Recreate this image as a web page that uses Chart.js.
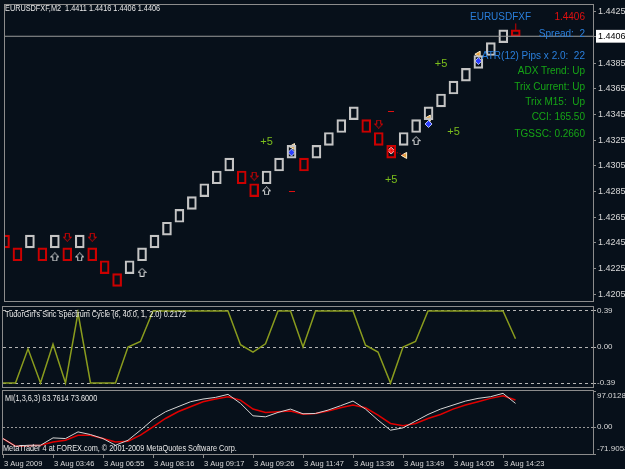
<!DOCTYPE html>
<html>
<head>
<meta charset="utf-8">
<script src="https://cdn.jsdelivr.net/npm/chart.js@4.4.0/dist/chart.umd.min.js"></script>
<style>
  body { margin: 0; background: #07101a; }
  #wrap { position: relative; width: 625px; height: 469px; overflow: hidden; background: #07101a; font-family: "Liberation Sans", Arial, sans-serif; }
  canvas { position: absolute; left: 0; }
  .t { position: absolute; white-space: pre; line-height: 12px; }
  .small { font-size: 8.5px; color: #e8e8e8; transform-origin: left center; transform: scaleX(0.86); }
  .info { font-size: 10px; right: 40px; text-align: right; }
  .blue { color: #2a7fdc; }
  .green { color: #16a516; }
</style>
</head>
<body>
<div id="wrap">
  <canvas id="main" width="625" height="306" style="top:0"></canvas>
  <canvas id="cycle" width="625" height="82" style="top:306px"></canvas>
  <canvas id="mi" width="625" height="85" style="top:384px"></canvas>

  <div class="t small" style="left:5px;top:2px">EURUSDFXF,M2  1.4411 1.4416 1.4406 1.4406</div>
  <div class="t blue" style="left:470px;top:11px;font-size:10px">EURUSDFXF</div>
  <div class="t info" style="top:11px;color:#e01010">1.4406</div>
  <div class="t info blue" style="top:28px">Spread:  2</div>
  <div class="t info blue" style="top:50px">ATR(12) Pips x 2.0:  22</div>
  <div class="t info green" style="top:65px">ADX Trend: Up</div>
  <div class="t info green" style="top:81px">Trix Current: Up</div>
  <div class="t info green" style="top:96px">Trix M15:  Up</div>
  <div class="t info green" style="top:111px">CCI: 165.50</div>
  <div class="t info green" style="top:128px">TGSSC: 0.2660</div>

  <div class="t small" style="left:5px;top:308px">TudorGirl's Sinc Spectrum Cycle (6, 40.0, 1, 2.0) 0.2172</div>
  <div class="t small" style="left:5px;top:392px">MI(1,3,6,3) 63.7614 73.6000</div>
  <div class="t small" style="left:3px;top:442px">MetaTrader 4 at FOREX.com, © 2001-2009 MetaQuotes Software Corp.</div>
</div>

<script>
// renko columns: box colour and box top price (box size 10 pips)
const boxSize = 0.001;
const boxColors = ["R","R","W","R","W","R","W","R","R","R","W","W","W","W","W","W","W","W","W","R",
                   "R","W","W","W","R","W","W","W","W","R","R","R","W","W","W","W","W","W","W","W","W"];
const boxTops = [1.4251,1.4241,1.4251,1.4241,1.4251,1.4241,1.4251,1.4241,1.4231,1.4221,
                 1.4231,1.4241,1.4251,1.4261,1.4271,1.4281,1.4291,1.4301,1.4311,1.4301,
                 1.4291,1.4301,1.4311,1.4321,1.4311,1.4321,1.4331,1.4341,1.4351,1.4341,
                 1.4331,1.4321,1.4331,1.4341,1.4351,1.4361,1.4371,1.4381,1.4391,1.4401,1.4411];
// current (unfinished) bar: open, high, low, close
const lastBar = [1.4411, 1.4416, 1.4406, 1.4406];
const bid = 1.4406;

// signal markers (column, price)
const upArrowCols = [4, 6, 11, 21, 33];
const upArrowPrices = [1.4234, 1.4234, 1.4222, 1.42855, 1.43246];
const downArrowCols = [5, 7, 20, 30];
const downArrowPrices = [1.42494, 1.42494, 1.4297, 1.43376];
const blueDotCols = [23, 34, 38];
const blueDotPrices = [1.43154, 1.43376, 1.43867];
const redDotCols = [31];
const redDotPrices = [1.43169];
const flagCols = [23.1, 34, 38, 32.1];
const flagPrices = [1.4320, 1.43422, 1.4392, 1.43131];
const plusCols = [21, 31, 35, 36];
const plusPrices = [1.43238, 1.42939, 1.43844, 1.43315];
const minusCols = [23, 31];
const minusPrices = [1.42855, 1.43476];

const priceTicks = [1.4205,1.4225,1.4245,1.4265,1.4285,1.4305,1.4325,1.4345,1.4365,1.4385,1.4406,1.4425];

// TudorGirl's sinc spectrum cycle
const cycle = [-0.39,-0.39,-0.02,-0.39,0.03,-0.39,0.37,-0.39,-0.39,-0.39,
               0.0,0.06,0.39,0.39,0.39,0.39,0.39,0.39,0.39,0.025,
               -0.055,0.035,0.39,0.39,0.0,0.39,0.39,0.39,0.39,0.02,
               -0.055,-0.39,0.0,0.06,0.39,0.39,0.39,0.39,0.39,0.39,0.39,0.09];
const cycleTicks = [0.39, 0, -0.39];

// MI main and signal
const miMain = [-30.5,-51.2,-48.5,-48.5,-28.7,-30.5,-12.6,-19.8,-30.5,-48.5,
                -35,-8.1,20.7,41.3,54.8,68.2,75.4,79.9,88,63.8,
                30.5,27.8,39.5,48.5,35.9,36.8,45.8,57.5,70,48.5,
                18.9,-8.1,-1.8,16.2,34.1,48.5,59.3,70,77.2,81.7,90.7,63.8];
const miSignal = [-30.5,-51,-50,-48.5,-39.5,-35,-21.5,-21.5,-30.5,-39.5,
                  -37.7,-21.5,0.9,23.3,41.3,54.8,68.2,75.4,81.7,72.7,
                  48.5,39.5,41.3,43.1,35,36.8,43.1,52,59.3,52,
                  32.3,9.9,3.6,9.9,23.3,34.1,48.5,59.3,68.2,77.2,84.4,72.7];
const miTicks = [97.0128, 0, -71.9058];

const timeCols = [0,4,8,12,16,20,24,28,32,36,40];
const timeLabels = ["3 Aug 2009","3 Aug 03:46","3 Aug 06:55","3 Aug 08:16","3 Aug 09:17","3 Aug 09:26",
                    "3 Aug 11:47","3 Aug 13:36","3 Aug 13:49","3 Aug 14:05","3 Aug 14:23"];

const X_MIN = 0, X_MAX = 47.2;
const WHITE = "#c4c4c4", RED = "#cc0000", FRAME = "#8c8c8c", LABEL = "#d8d8d8";

Chart.defaults.font.family = "Liberation Sans";
Chart.defaults.animation = false;
Chart.defaults.responsive = false;
Chart.defaults.plugins.legend.display = false;
Chart.defaults.plugins.tooltip.enabled = false;

const pts = (cols, vals) => cols.map((c, i) => ({ x: c, y: vals[i] }));

function arrowImg(color, up) {
  const c = document.createElement("canvas");
  c.width = 9; c.height = 9;
  const g = c.getContext("2d");
  g.strokeStyle = color; g.lineWidth = 1;
  const shape = [[4.5,0.5],[8.5,4.5],[6.5,4.5],[6.5,8.5],[2.5,8.5],[2.5,4.5],[0.5,4.5]];
  g.beginPath();
  shape.forEach(([px, py], i) => {
    const yy = up ? py : 9 - py;
    i ? g.lineTo(px, yy) : g.moveTo(px, yy);
  });
  g.closePath(); g.stroke();
  return c;
}

const frame = {
  id: "frame",
  afterDraw(chart) {
    const { ctx, chartArea: a } = chart;
    ctx.save();
    ctx.strokeStyle = FRAME; ctx.lineWidth = 1;
    ctx.strokeRect(a.left - 0.5, a.top - 0.5, a.right - a.left + 1, a.bottom - a.top + 1);
    ctx.restore();
  }
};

// "+5" / "-" notes sitting on the price chart
const notes = {
  id: "notes",
  afterDatasetsDraw(chart) {
    const { ctx, scales: { x, y } } = chart;
    ctx.save();
    ctx.font = "11px Liberation Sans";
    ctx.textAlign = "center"; ctx.textBaseline = "middle";
    ctx.fillStyle = "#7cbf1c";
    plusCols.forEach((c, i) => ctx.fillText("+5", x.getPixelForValue(c), y.getPixelForValue(plusPrices[i])));
    ctx.fillStyle = "#e01010";
    minusCols.forEach((c, i) => {
      const px = Math.round(x.getPixelForValue(c)), py = Math.round(y.getPixelForValue(minusPrices[i]));
      ctx.fillRect(px - 3, py, 6, 1);
    });
    ctx.restore();
  }
};

const rightAxis = (width) => (s) => { s.width = width; s.paddingTop = 0; s.paddingBottom = 0; };

const whiteBoxes = [], redBoxes = [];
boxTops.forEach((top, i) => {
  const b = { x: i, y: [top - boxSize, top] };
  (boxColors[i] === "W" ? whiteBoxes : redBoxes).push(b);
});
redBoxes.push({ x: boxTops.length, y: [lastBar[3], lastBar[0]] });

const boxStyle = { type: "bar", backgroundColor: "transparent", borderWidth: 1.5, borderSkipped: false, barThickness: 9, grouped: false };

new Chart(document.getElementById("main"), {
  type: "bar",
  data: {
    datasets: [
      { type: "line", data: [{ x: X_MIN, y: bid }, { x: X_MAX, y: bid }], borderColor: "#9a9a9a", borderWidth: 1, pointRadius: 0 },
      { ...boxStyle, data: whiteBoxes, borderColor: WHITE },
      { ...boxStyle, data: redBoxes, borderColor: RED },
      { type: "line", data: [{ x: boxTops.length, y: lastBar[0] }, { x: boxTops.length, y: lastBar[1] }], borderColor: RED, borderWidth: 1, pointRadius: 0 },
      { type: "line", data: [{ x: redDotCols[0], y: redDotPrices[0] }, { x: flagCols[3], y: flagPrices[3] }], borderColor: RED, borderWidth: 1, borderDash: [1, 2], pointRadius: 0 },
      { type: "scatter", data: pts(upArrowCols, upArrowPrices), pointStyle: arrowImg("#dedede", true) },
      { type: "scatter", data: pts(downArrowCols, downArrowPrices), pointStyle: arrowImg("#e00000", false) },
      { type: "scatter", data: pts(blueDotCols, blueDotPrices), pointStyle: "rectRot", radius: 3.5, backgroundColor: "#2b3dff", borderColor: "#b8c4ff", borderWidth: 1 },
      { type: "scatter", data: pts(redDotCols, redDotPrices), pointStyle: "rectRot", radius: 3.5, backgroundColor: "#ff2424", borderColor: "#ffc0c0", borderWidth: 1 },
      { type: "scatter", data: pts(flagCols, flagPrices), pointStyle: "triangle", rotation: -90, radius: 3.5, backgroundColor: "#e6a03c", borderColor: "#fff0d0", borderWidth: 1 }
    ]
  },
  options: {
    layout: { padding: { left: 3, top: 3, right: 0, bottom: 2 } },
    scales: {
      x: { type: "linear", min: X_MIN, max: X_MAX, offset: false, grid: { offset: false }, display: false },
      y: {
        position: "right",
        min: 1.419963, max: 1.443037,
        afterFit: rightAxis(32),
        afterBuildTicks: (s) => { s.ticks = priceTicks.map(v => ({ value: v })); },
        border: { display: false },
        grid: { drawOnChartArea: false, color: FRAME, tickLength: 3 },
        ticks: {
          padding: 2, autoSkip: false,
          font: { size: 9 },
          callback: (v) => v.toFixed(4),
          color: (c) => (c.tick && Math.abs(c.tick.value - bid) < 1e-9 ? "#000" : LABEL),
          showLabelBackdrop: (c) => !!(c.tick && Math.abs(c.tick.value - bid) < 1e-9),
          backdropColor: "#ffffff",
          backdropPadding: { top: 1, bottom: 1, left: 2, right: 4 }
        }
      }
    }
  },
  plugins: [frame, notes]
});

new Chart(document.getElementById("cycle"), {
  type: "line",
  data: {
    datasets: [{ data: cycle.map((v, i) => ({ x: i, y: v })), borderColor: "#8a9c1e", borderWidth: 1.5, pointRadius: 0, tension: 0 }]
  },
  options: {
    layout: { padding: { left: 3, top: 1, right: 0, bottom: 1 } },
    scales: {
      x: { type: "linear", min: X_MIN, max: X_MAX, display: false },
      y: {
        position: "right",
        min: -0.4333, max: 0.4333,
        afterFit: rightAxis(32),
        afterBuildTicks: (s) => { s.ticks = cycleTicks.map(v => ({ value: v })); },
        border: { display: false, dash: [3, 3] },
        grid: { color: "#b4b4b4", tickLength: 3 },
        ticks: { padding: 1, autoSkip: false, font: { size: 8 }, color: LABEL, callback: (v) => v.toFixed(2) }
      }
    }
  },
  plugins: [frame]
});

new Chart(document.getElementById("mi"), {
  type: "line",
  data: {
    datasets: [
      { data: miMain.map((v, i) => ({ x: i, y: v })), borderColor: "#d4d4d4", borderWidth: 1, pointRadius: 0, tension: 0 },
      { data: miSignal.map((v, i) => ({ x: i, y: v })), borderColor: "#e00000", borderWidth: 1.5, pointRadius: 0, tension: 0 }
    ]
  },
  options: {
    layout: { padding: { left: 3, top: 7, right: 0, bottom: 0 } },
    scales: {
      x: {
        type: "linear", min: X_MIN, max: X_MAX,
        afterFit: (s) => { s.height = 15; s.paddingLeft = 0; s.paddingRight = 0; },
        afterBuildTicks: (s) => { s.ticks = timeCols.map(v => ({ value: v })); },
        border: { display: false },
        grid: { drawOnChartArea: false, color: FRAME, tickLength: 4 },
        ticks: {
          align: "start", maxRotation: 0, autoSkip: false, padding: 1, labelOffset: 1,
          font: { size: 7.5 }, color: LABEL,
          callback: (v, i) => timeLabels[i]
        }
      },
      y: {
        position: "right",
        min: -71.9058, max: 97.0128,
        afterFit: rightAxis(32),
        afterBuildTicks: (s) => { s.ticks = miTicks.map(v => ({ value: v })); },
        border: { display: false, dash: [2, 2] },
        grid: { color: (c) => (c.tick && c.tick.value === 0 ? "#9a9a9a" : "transparent"), tickColor: FRAME, tickLength: 3 },
        ticks: {
          padding: 1, autoSkip: false, font: { size: 8 }, color: LABEL,
          // MT4 keeps the edge labels inside the window: pad with an empty line
          callback: (v, i) => (i === 0 ? ["", v.toFixed(4)] : i === miTicks.length - 1 ? [v.toFixed(4), ""] : "0.00")
        }
      }
    }
  },
  plugins: [frame]
});
</script>
</body>
</html>
